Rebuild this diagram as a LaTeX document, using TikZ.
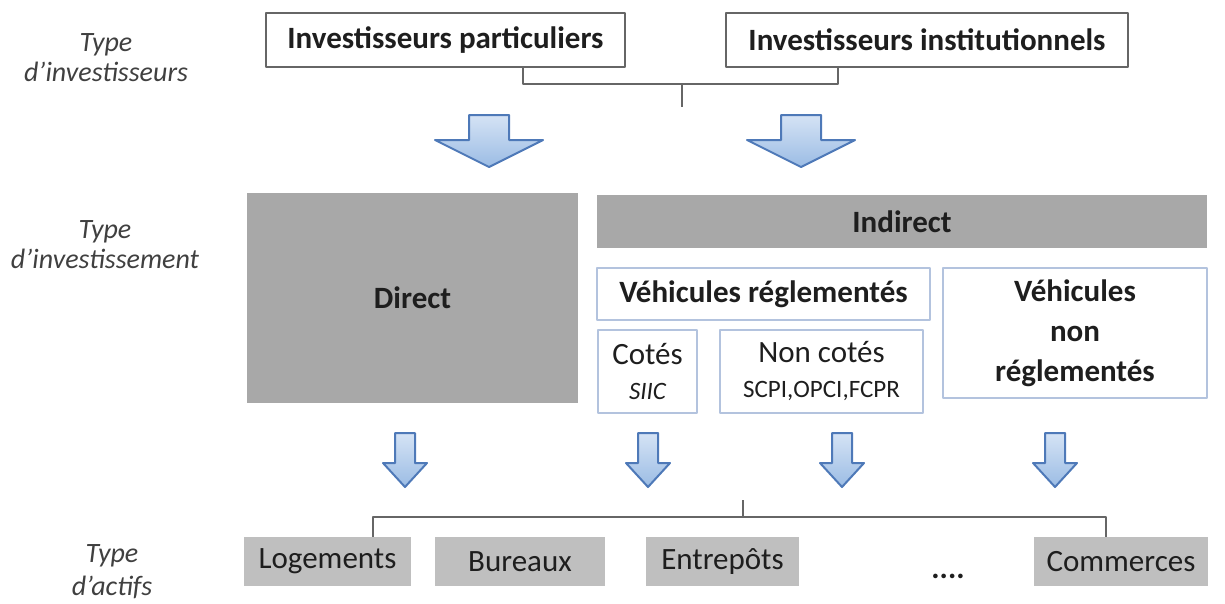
\documentclass[tikz,border=0pt]{standalone}
\usepackage{fontspec}
\setmainfont{Carlito}
\definecolor{edgegray}{HTML}{666666}
\definecolor{vehblue}{HTML}{B3C3DE}
\definecolor{darkfill}{HTML}{A8A8A8}
\definecolor{lightfill}{HTML}{BFBFBF}
\definecolor{arrowedge}{HTML}{4E79B8}
\definecolor{arrowtop}{HTML}{D5E3F5}
\definecolor{arrowbot}{HTML}{9BBCE4}
\definecolor{inktext}{HTML}{1E1E1E}
\definecolor{labeltext}{HTML}{404040}
\tikzset{
  sidelabel/.style={text=labeltext, align=center, font=\fontsize{28}{30}\selectfont\itshape},
  whitebox/.style={draw=edgegray, line width=2pt, fill=white, text=inktext, inner sep=0pt, font=\fontsize{31}{37}\selectfont\bfseries},
  greybox/.style={fill=darkfill, text=inktext, inner sep=0pt, font=\fontsize{31}{37}\selectfont\bfseries},
  vehbox/.style={draw=vehblue, line width=2pt, text=inktext, inner sep=0pt, align=center},
  assetbox/.style={fill=lightfill, text=inktext, inner sep=0pt, font=\fontsize{31}{37}\selectfont},
  bracket/.style={draw=edgegray, line width=1.8pt},
  blockarrow/.style={draw=arrowedge, line width=2pt, line join=round, top color=arrowtop, bottom color=arrowbot},
}
% centre x, top, shaft half width, head half width, head start, tip
\newcommand{\blockdown}[6]{%
  \path[blockarrow] (#1-#3,#2) -- (#1+#3,#2) -- (#1+#3,#5) -- (#1+#4,#5) -- (#1,#6) -- (#1-#4,#5) -- (#1-#3,#5) -- cycle;}
\begin{document}
\begin{tikzpicture}[x=1pt, y=-1pt, line join=round]
\useasboundingbox (0,0) rectangle (1225,603);
\node[sidelabel] (lab1) at (106,58) {Type\\d’investisseurs};
\node[sidelabel] (lab2) at (105,245) {Type\\d’investissement};
\node[sidelabel, font=\fontsize{28}{33}\selectfont\itshape] (lab3) at (112,572) {Type\\d’actifs};

\node[whitebox, minimum width=359, minimum height=54] (part) at (445.5,40) {Investisseurs particuliers};
\node[whitebox, minimum width=402, minimum height=54] (inst) at (927,40) {Investisseurs institutionnels};
\coordinate (pj) at ([xshift=77.5pt]part.south);
\coordinate (ij) at ([xshift=-89pt]inst.south);
\coordinate (tj) at (682,107);
\draw[bracket] (pj) -- ++(0,16) coordinate (pk) -| (ij);
\draw[bracket] (pk -| tj) -- (tj);

\blockdown{489}{115}{20}{54}{140}{167}
\blockdown{801}{115}{20}{54}{140}{167}

\node[greybox, minimum width=331, minimum height=210] (direct) at (412.5,298) {Direct};
\node[greybox, minimum width=610, minimum height=53] (indirect) at (902,221.5) {Indirect};
\node[vehbox, minimum width=333, minimum height=52, font=\fontsize{31}{37}\selectfont\bfseries] (regl) at (763.5,294) {Véhicules réglementés};
\node[vehbox, minimum width=264, minimum height=130, font=\fontsize{31}{40}\selectfont\bfseries] (nonregl) at (1075,333) {Véhicules\\non\\réglementés};
\node[vehbox, minimum width=99, minimum height=83, font=\fontsize{31}{35}\selectfont] (cotes) at (647.5,371.5) {Cotés\\{\fontsize{25}{30}\selectfont\itshape SIIC}};
\node[vehbox, minimum width=203, minimum height=83, font=\fontsize{31}{35}\selectfont] (noncotes) at (821.5,371.5) {Non cotés\\{\fontsize{25}{30}\selectfont SCPI,OPCI,FCPR}};

\blockdown{405}{433}{10}{22}{463}{487}
\blockdown{648}{433}{10}{22}{463}{487}
\blockdown{842}{433}{10}{22}{463}{487}
\blockdown{1055}{433}{10}{22}{463}{487}

\node[assetbox, minimum width=167, minimum height=49] (loge) at (327.5,561.5) {Logements};
\node[assetbox, minimum width=170, minimum height=49] (bur) at (520,561.5) {Bureaux};
\node[assetbox, minimum width=153, minimum height=49] (entr) at (722.5,561.5) {Entrepôts};
\node[assetbox, minimum width=174, minimum height=49] (comm) at (1121,561.5) {Commerces};
\node[font=\fontsize{31}{37}\selectfont\bfseries, text=inktext, anchor=base] (dots) at (948,578) {....};
\coordinate (lj) at ([xshift=45.5pt]loge.north);
\coordinate (cj) at ([xshift=-15pt]comm.north);
\coordinate (bt) at (743,500);
\draw[bracket] (lj) -- ++(0,-20) coordinate (lk) -| (cj);
\draw[bracket] (lk -| bt) -- (bt);
\end{tikzpicture}
\end{document}
